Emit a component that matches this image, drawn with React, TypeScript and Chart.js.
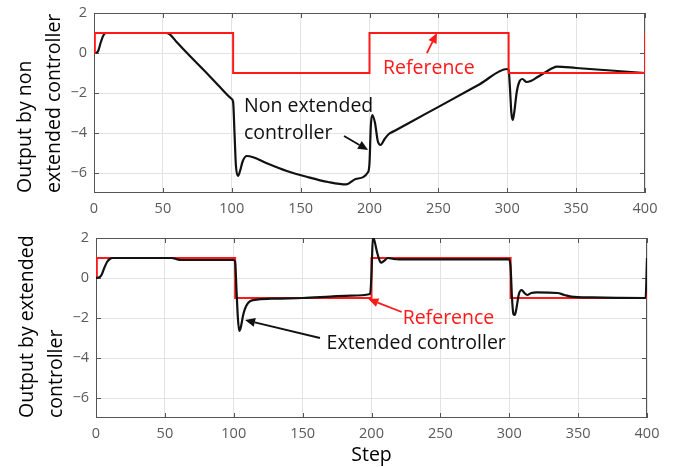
import React, { useEffect, useRef } from 'react';
import { Chart, registerables } from 'chart.js';

Chart.register(...registerables);
Chart.defaults.font.family = '"Open Sans", "Noto Sans", sans-serif';

const RED = '#ff1a1a';
const BLACK = '#111111';
const TICK_COLOR = '#5a5a5a';
const GRID_COLOR = '#e3e3e3';
const FRAME_COLOR = '#555555';

const xTickValues = [0, 50, 100, 150, 200, 250, 300, 350, 400];
const yTickValues = [-6, -4, -2, 0, 2];

const refSteps = [0, 0.6, 101, 101, 200, 200, 301, 301, 400, 400];
const refValues = [0, 1, 1, -1, -1, 1, 1, -1, -1, 1];

const nonExtSteps = [0, 2, 3, 5, 7, 9, 12, 52, 55, 60, 70, 80, 90, 100, 101, 102, 103, 104.5, 106, 108, 111, 115, 125, 140, 155, 170, 183, 190, 199, 200, 201, 202, 204, 206, 208, 211, 214, 218, 240, 260, 280, 300, 301, 302, 303, 304, 305, 307, 309, 311, 314, 317, 322, 328, 333, 336, 350, 370, 390, 400];
const nonExtValues = [0, 0.02, 0.1, 0.55, 0.9, 1.0, 1.0, 1.0, 0.93, 0.55, -0.18, -0.88, -1.6, -2.3, -2.45, -4.0, -5.6, -6.15, -5.9, -5.4, -5.15, -5.2, -5.5, -5.9, -6.2, -6.45, -6.57, -6.3, -5.95, -5.5, -3.6, -3.1, -3.5, -4.4, -4.6, -4.3, -4.05, -3.9, -3.07, -2.32, -1.56, -0.8, -0.85, -1.8, -3.0, -3.35, -3.0, -1.9, -1.4, -1.3, -1.45, -1.4, -1.2, -0.95, -0.75, -0.68, -0.75, -0.85, -0.95, -1.0];

const extSteps = [0, 2, 4, 6, 8, 10, 12, 55, 58, 62, 100, 101, 102, 103, 104, 105, 107, 109, 112, 118, 130, 150, 170, 185, 199, 200, 201, 202, 204, 206, 207, 209, 212, 216, 220, 300, 301, 302, 303, 304, 305, 307, 309, 311, 313, 316, 320, 335, 340, 345, 360, 380, 399, 400];
const extValues = [0, 0.02, 0.15, 0.5, 0.8, 0.95, 1.0, 1.0, 0.95, 0.9, 0.9, 0.8, -0.6, -2.0, -2.65, -2.5, -1.8, -1.4, -1.15, -1.07, -1.03, -1.0, -0.93, -0.88, -0.8, 0.2, 2.0, 1.9, 1.3, 0.85, 0.77, 0.85, 1.0, 0.95, 0.93, 0.93, 0.5, -1.0, -1.8, -1.85, -1.6, -0.8, -0.6, -0.75, -0.85, -0.75, -0.72, -0.75, -0.85, -0.93, -0.97, -0.99, -1.0, 1.0];

const topTitle = ['Output by non', 'extended controller'];
const bottomTitle = ['Output by extended', 'controller'];
const xTitle = 'Step';

type Note = { lines: string[]; x: number; y: number; color: string };
type Arrow = { x1: number; y1: number; x2: number; y2: number; color: string };

const topNotes: Note[] = [
  { lines: ['Non extended', 'controller'], x: 108.9, y: -2.65, color: BLACK },
  { lines: ['Reference'], x: 209.8, y: -0.75, color: RED },
];
const topArrows: Arrow[] = [
  { x1: 181.5, y1: -4.15, x2: 199, y2: -4.85, color: BLACK },
  { x1: 241.7, y1: 0, x2: 249, y2: 1.0, color: RED },
];
const bottomNotes: Note[] = [
  { lines: ['Reference'], x: 222.6, y: -2.0, color: RED },
  { lines: ['Extended controller'], x: 167.4, y: -3.25, color: BLACK },
];
const bottomArrows: Arrow[] = [
  { x1: 221.9, y1: -1.7, x2: 197.7, y2: -1.05, color: RED },
  { x1: 162.6, y1: -3.0, x2: 108.2, y2: -2.1, color: BLACK },
];

const toPoints = (xs: number[], ys: number[]) => xs.map((x, i) => ({ x, y: ys[i] }));

const framePlugin = {
  id: 'frame',
  beforeDatasetsDraw(chart: any) {
    const { ctx, chartArea } = chart;
    const { left, right, top, bottom } = chartArea;
    const xs = chart.scales.x;
    const ys = chart.scales.y;
    ctx.save();
    ctx.strokeStyle = FRAME_COLOR;
    ctx.lineWidth = 1;
    ctx.strokeRect(left + 0.5, top + 0.5, right - left - 1, bottom - top - 1);
    ctx.beginPath();
    xTickValues.forEach((v) => {
      const px = Math.round(xs.getPixelForValue(v)) + 0.5;
      ctx.moveTo(px, bottom);
      ctx.lineTo(px, bottom - 5);
      ctx.moveTo(px, top);
      ctx.lineTo(px, top + 5);
    });
    yTickValues.forEach((v) => {
      const py = Math.round(ys.getPixelForValue(v)) + 0.5;
      ctx.moveTo(left, py);
      ctx.lineTo(left + 5, py);
      ctx.moveTo(right, py);
      ctx.lineTo(right - 5, py);
    });
    ctx.stroke();
    ctx.restore();
  },
};

function notesPlugin(notes: Note[], arrows: Arrow[]) {
  return {
    id: 'notes',
    afterDatasetsDraw(chart: any) {
      const { ctx } = chart;
      const xs = chart.scales.x;
      const ys = chart.scales.y;
      ctx.save();
      ctx.font = '19.5px "Open Sans", "Noto Sans", sans-serif';
      ctx.textBaseline = 'middle';
      ctx.textAlign = 'left';
      notes.forEach((n) => {
        ctx.fillStyle = n.color;
        const px = xs.getPixelForValue(n.x);
        const py = ys.getPixelForValue(n.y);
        n.lines.forEach((l, i) => ctx.fillText(l, px, py + i * 27));
      });
      arrows.forEach((a) => {
        const x1 = xs.getPixelForValue(a.x1);
        const y1 = ys.getPixelForValue(a.y1);
        const x2 = xs.getPixelForValue(a.x2);
        const y2 = ys.getPixelForValue(a.y2);
        const ang = Math.atan2(y2 - y1, x2 - x1);
        const hl = 10;
        const hw = 4.5;
        const bx = x2 - hl * Math.cos(ang);
        const by = y2 - hl * Math.sin(ang);
        ctx.strokeStyle = a.color;
        ctx.fillStyle = a.color;
        ctx.lineWidth = 1.8;
        ctx.beginPath();
        ctx.moveTo(x1, y1);
        ctx.lineTo(bx, by);
        ctx.stroke();
        ctx.beginPath();
        ctx.moveTo(x2, y2);
        ctx.lineTo(bx + hw * Math.sin(ang), by - hw * Math.cos(ang));
        ctx.lineTo(bx - hw * Math.sin(ang), by + hw * Math.cos(ang));
        ctx.closePath();
        ctx.fill();
      });
      ctx.restore();
    },
  };
}

type PanelProps = {
  height: number;
  padRight: number;
  axisWidth: number;
  axisHeight: number;
  yTitle: string[];
  yTitlePad: number;
  showXTitle: boolean;
  datasets: any[];
  notes: Note[];
  arrows: Arrow[];
};

function Panel(p: PanelProps) {
  const ref = useRef<HTMLCanvasElement>(null);
  useEffect(() => {
    const chart = new Chart(ref.current as HTMLCanvasElement, {
      type: 'line',
      data: { datasets: p.datasets },
      options: {
        animation: false,
        responsive: false,
        devicePixelRatio: 1,
        layout: { padding: { left: 0, top: 13, right: p.padRight, bottom: 0 } },
        plugins: { legend: { display: false }, tooltip: { enabled: false } },
        elements: { point: { radius: 0 } },
        scales: {
          x: {
            type: 'linear',
            min: 0,
            max: 400,
            afterBuildTicks: (s: any) => {
              s.ticks = xTickValues.map((v) => ({ value: v }));
            },
            afterFit: (s: any) => {
              s.height = p.axisHeight;
              s.paddingLeft = 0;
              s.paddingRight = 0;
            },
            grid: { color: GRID_COLOR, drawTicks: false },
            border: { display: false },
            ticks: {
              color: TICK_COLOR,
              padding: 7,
              font: { size: 14.5 },
              maxRotation: 0,
              callback: (v: any) => String(v),
            },
            title: {
              display: p.showXTitle,
              text: xTitle,
              color: '#000',
              font: { size: 19.5, lineHeight: 1.2 },
              padding: { top: 0, bottom: 0 },
            },
          },
          y: {
            type: 'linear',
            min: -7,
            max: 2,
            afterBuildTicks: (s: any) => {
              s.ticks = yTickValues.map((v) => ({ value: v }));
            },
            afterFit: (s: any) => {
              s.width = p.axisWidth;
              s.paddingTop = 0;
              s.paddingBottom = 0;
            },
            grid: { color: GRID_COLOR, drawTicks: false },
            border: { display: false },
            ticks: {
              color: TICK_COLOR,
              padding: 7,
              font: { size: 14.5 },
              callback: (v: any) => String(v).replace('-', '\u2212'),
            },
            title: {
              display: true,
              text: p.yTitle,
              align: 'start',
              color: '#000',
              font: { size: 19.5, lineHeight: 1.5 },
              padding: { top: p.yTitlePad, bottom: 0 },
            },
          },
        },
      },
      plugins: [framePlugin, notesPlugin(p.notes, p.arrows)],
    } as any);
    return () => chart.destroy();
  }, []);
  return <canvas ref={ref} width={674} height={p.height} style={{ display: 'block', width: 674, height: p.height }} />;
}

const redSet = () => ({
  data: toPoints(refSteps, refValues),
  borderColor: RED,
  borderWidth: 2,
  pointRadius: 0,
  fill: false,
  tension: 0,
});
const blackSet = (xs: number[], ys: number[]) => ({
  data: toPoints(xs, ys),
  borderColor: BLACK,
  borderWidth: 2.2,
  pointRadius: 0,
  fill: false,
  cubicInterpolationMode: 'monotone',
});

export default function App() {
  return (
    <div style={{ position: 'absolute', left: 0, top: 0, width: 674, height: 467, background: '#fff' }}>
      <Panel
        height={225}
        padRight={29}
        axisWidth={94}
        axisHeight={32}
        yTitle={topTitle}
        yTitlePad={10.4}
        showXTitle={false}
        datasets={[redSet(), blackSet(nonExtSteps, nonExtValues)]}
        notes={topNotes}
        arrows={topArrows}
      />
      <Panel
        height={242}
        padRight={27}
        axisWidth={96}
        axisHeight={49}
        yTitle={bottomTitle}
        yTitlePad={12.4}
        showXTitle={true}
        datasets={[blackSet(extSteps, extValues), redSet()]}
        notes={bottomNotes}
        arrows={bottomArrows}
      />
    </div>
  );
}
